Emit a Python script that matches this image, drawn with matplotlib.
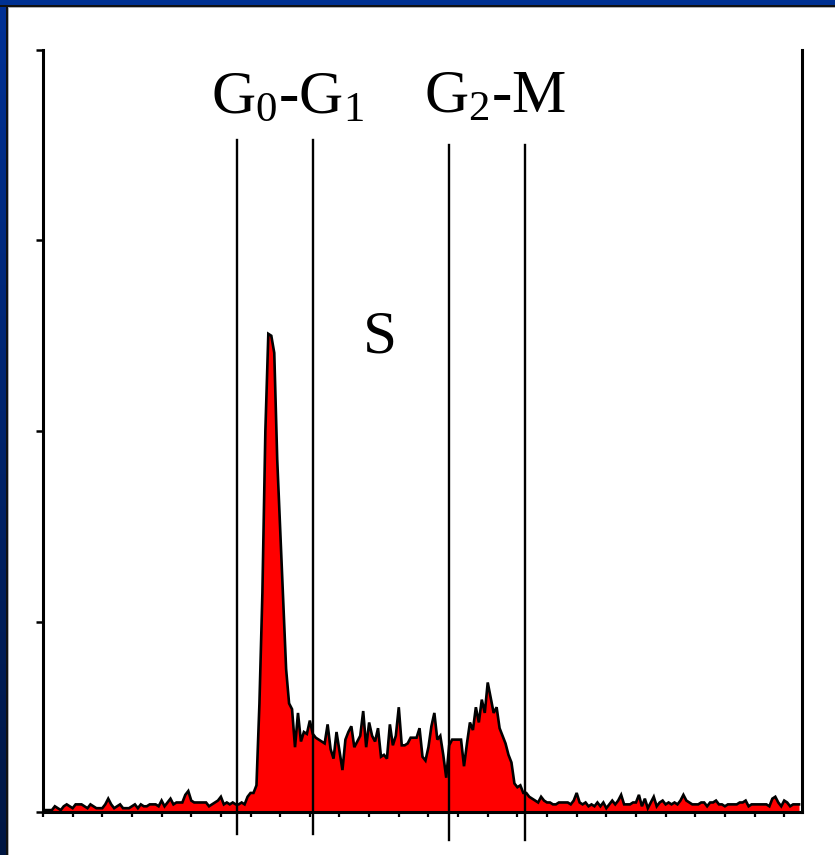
import numpy as np
import matplotlib
matplotlib.use("Agg")
import matplotlib.pyplot as plt
from matplotlib.patches import Rectangle

plt.rcParams["font.family"] = ["Liberation Serif", "DejaVu Serif"]
plt.rcParams["mathtext.fontset"] = "custom"
plt.rcParams["mathtext.rm"] = "Liberation Serif"
plt.rcParams["mathtext.it"] = "Liberation Serif:italic"

# DNA-content histogram: cell counts per fluorescence channel (0-255)
counts_baseline = [
    1, 1, 1, 1, 3, 2, 1, 3, 4, 3, 2, 4, 4, 4, 3, 2, 4, 3, 2, 2,
    2, 4, 7, 4, 2, 3, 4, 2, 2, 2, 3, 4, 2, 4, 3, 3, 4, 4, 4, 3,
    6, 3, 5, 7, 4, 5, 5, 5, 9, 11, 6, 5, 5, 5, 5, 5, 3, 4, 5, 6,
    8, 4, 5, 4, 5,
]
counts_g0g1 = [
    4, 4, 5, 4, 8, 10, 10, 14, 57, 115, 200, 251, 250, 241, 185, 148,
    110, 75, 57, 54, 34, 52, 37, 42, 41, 48, 41, 39, 38,
]
counts_s = [
    37, 36, 46, 33, 28, 42, 32, 22, 38, 42, 45, 34, 37, 40, 53, 34,
    47, 40, 37, 44, 29, 30, 28, 46, 35, 40, 55, 35, 35, 36, 39, 39,
    39, 44, 29, 27, 34, 45, 52, 38, 40, 30, 18, 35, 38,
]
counts_g2m = [
    38, 38, 38, 24, 36, 47, 43, 55, 47, 59, 52, 68, 60, 52, 55, 44,
    40, 36, 30, 26, 15, 13, 14, 10, 10, 8, 7, 6, 5,
]
counts_tail = [
    8, 6, 5, 5, 4, 4, 5, 5, 5, 5, 4, 6, 10, 5, 4, 5, 3, 4, 3, 5,
    3, 5, 2, 4, 6, 4, 6, 9, 4, 4, 4, 5, 5, 9, 3, 7, 2, 5, 8, 3,
    5, 6, 4, 5, 4, 5, 4, 6, 9, 6, 5, 4, 4, 4, 5, 5, 3, 5, 5, 6,
    4, 4, 3, 4, 4, 4, 4, 5, 5, 6, 3, 4, 4, 4, 4, 4, 4, 3, 7, 8,
    5, 3, 6, 5, 3, 4, 4, 4,
]
counts = np.array(counts_baseline + counts_g0g1 + counts_s + counts_g2m + counts_tail)
channels = np.arange(len(counts))

# Gate boundaries (channel) and phase labels
gate_channels = [65.4, 91.1, 136.9, 162.6]
phase_labels = [r"G$_0$-G$_1$", r"G$_2$-M", "S"]
label_channels = [82.6, 152.6, 113.7]
label_heights = [367, 367, 241]

W, H = 835, 855
fig = plt.figure(figsize=(W / 100, H / 100), dpi=100, facecolor="white")

# Slide frame: blue bar along the top and gradient bar down the left side
bg = fig.add_axes([0, 0, 1, 1], zorder=0)
bg.set_xlim(0, W)
bg.set_ylim(H, 0)
bg.axis("off")
bg.add_patch(Rectangle((0, 0), W, 5.5, color="#003192", lw=0))
grad = np.linspace(0, 1, 256)[:, None]
top_c = np.array([0, 49, 150]) / 255
bot_c = np.array([0, 22, 66]) / 255
img = top_c[None, None, :] * (1 - grad[:, :, None]) + bot_c[None, None, :] * grad[:, :, None]
bg.imshow(img, extent=(0, 6, H, 0), aspect="auto", interpolation="bilinear")
bg.add_patch(Rectangle((0, 5.5), W, 1.6, color="#111111", lw=0))
bg.add_patch(Rectangle((6, 5.5), 1.6, H, color="#111111", lw=0))
bg.add_patch(Rectangle((7.6, 7.1), W, 1.0, color="#b0b0b0", lw=0))
bg.add_patch(Rectangle((7.6, 7.1), 1.0, H, color="#b0b0b0", lw=0))
bg.set_xlim(0, W)
bg.set_ylim(H, 0)

# Histogram axes
left, right, top, bottom = 43, 802, 50, 812
ax = fig.add_axes([left / W, 1 - bottom / H, (right - left) / W, (bottom - top) / H], zorder=1)
ax.patch.set_alpha(0)
ax.set_xlim(0, 256)
ax.set_ylim(0, 400)

ax.fill_between(channels, counts, 0, color="#ff0000", lw=0, zorder=2)
ax.plot(channels, counts, color="black", lw=1.9, zorder=3, solid_joinstyle="miter")

for g, (y0, y1) in zip(gate_channels, [(-11.5, 352.8), (-11.5, 352.8), (-14.7, 350.1), (-14.7, 350.1)]):
    ax.plot([g, g], [y0, y1], color="black", lw=1.7, clip_on=False, zorder=4)

for text, xc, yc in zip(phase_labels, label_channels, label_heights):
    ax.text(xc, yc, text, ha="center", va="baseline", fontsize=44, color="black", zorder=5)

for side in ("left", "bottom", "right"):
    ax.spines[side].set_linewidth(2.2)
ax.spines["top"].set_visible(False)

ax.set_xticks(np.arange(0, 251, 10))
ax.set_yticks(np.arange(0, 401, 100))
ax.tick_params(axis="x", direction="out", length=3.5, width=1.6, labelbottom=False)
ax.tick_params(axis="y", direction="out", length=5, width=1.8, labelleft=False)

fig.savefig("out.png", dpi=100, facecolor="white")
